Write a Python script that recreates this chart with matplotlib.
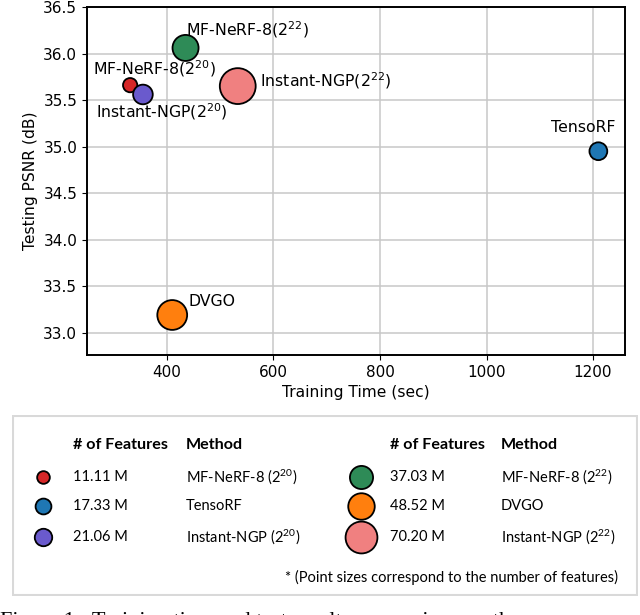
import matplotlib
matplotlib.use("Agg")
import matplotlib.pyplot as plt
from matplotlib.patches import Rectangle

# data
methods = ["MF-NeRF-8(2$^{20}$)", "TensoRF", "Instant-NGP(2$^{20}$)",
           "MF-NeRF-8(2$^{22}$)", "DVGO", "Instant-NGP(2$^{22}$)"]
legend_methods = ["MF-NeRF-8 (2$\\mathregular{^{20}}$)", "TensoRF",
                  "Instant-NGP (2$\\mathregular{^{20}}$)",
                  "MF-NeRF-8 (2$\\mathregular{^{22}}$)", "DVGO",
                  "Instant-NGP (2$\\mathregular{^{22}}$)"]
train_time = [331, 1210, 355, 435, 410, 533]
psnr = [35.66, 34.95, 35.56, 36.06, 33.19, 35.65]
features = [11.11, 17.33, 21.06, 37.03, 48.52, 70.20]
feature_labels = ["11.11 M", "17.33 M", "21.06 M", "37.03 M", "48.52 M", "70.20 M"]
colors = ["#d62728", "#1f77b4", "#6a5acd", "#2e8b57", "#ff7f0e", "#f08080"]

# label anchor points (data coords, left edge / vertical center)
label_x = [261, 1121, 267, 435, 441, 575]
label_y = [35.84, 35.21, 35.37, 36.26, 33.33, 35.71]

W, H = 640, 615
fig = plt.figure(figsize=(W / 100, H / 100), dpi=100)
ax = fig.add_axes([87 / W, 1 - 355 / H, (625 - 87) / W, (355 - 7) / H])

ax.scatter(train_time, psnr, s=[9.5 * f for f in features], c=colors,
           edgecolors="black", linewidths=1.3, zorder=3)
for name, lx, ly in zip(methods, label_x, label_y):
    ax.text(lx, ly, name, fontsize=11.3, va="center", ha="left", zorder=4)

ax.set_xlim(250, 1260)
ax.set_ylim(32.76, 36.5)
ax.set_xticks([400, 600, 800, 1000, 1200])
ax.set_yticks([33.0, 33.5, 34.0, 34.5, 35.0, 35.5, 36.0, 36.5])
ax.tick_params(labelsize=11)
ax.grid(True, color="#c8c8c8", linewidth=1.1)
ax.set_axisbelow(True)
for sp in ax.spines.values():
    sp.set_linewidth(1.4)
ax.set_xlabel("Training Time (sec)", fontsize=11.2)
ax.set_ylabel("Testing PSNR (dB)", fontsize=11.2)

# legend table below the plot
lx0, ly0, lx1, ly1 = 12, 415, 638, 596
lax = fig.add_axes([lx0 / W, 1 - ly1 / H, (lx1 - lx0) / W, (ly1 - ly0) / H])
lax.set_xlim(lx0, lx1)
lax.set_ylim(ly1, ly0)
lax.axis("off")
lax.add_patch(Rectangle((lx0 + 1, ly0 + 1), lx1 - lx0 - 2, ly1 - ly0 - 2,
                        fill=False, edgecolor="#d9d9d9", linewidth=1.5))

lfont = "Lato"
col_circle = [43, 361]
col_feat = [73, 390]
col_meth = [186, 501]
header_y = 445
row_y = [477, 506, 537]

for c in range(2):
    lax.text(col_feat[c], header_y, "# of Features", fontsize=11.6, fontweight="bold",
             family=lfont, va="center", ha="left")
    lax.text(col_meth[c], header_y, "Method", fontsize=11.6, fontweight="bold",
             family=lfont, va="center", ha="left")

for i in range(len(methods)):
    c, r = divmod(i, 3)
    lax.scatter([col_circle[c]], [row_y[r]], s=7.5 * features[i], c=colors[i],
                edgecolors="black", linewidths=1.3, zorder=3, clip_on=False)
    lax.text(col_feat[c], row_y[r], feature_labels[i], fontsize=10.5,
             family=lfont, va="center", ha="left")
    lax.text(col_meth[c], row_y[r], legend_methods[i], fontsize=10.5,
             family=lfont, va="center", ha="left")

lax.text(618, 577, "* (Point sizes correspond to the number of features)",
         fontsize=10.5, family=lfont, va="center", ha="right")

# caption cut off at the bottom edge, as in the reference
fig.text(0, 1 - 626 / H, "Figure 1:  Training time and test results comparison on the",
         fontsize=16, family="Liberation Serif", va="baseline", ha="left")

fig.savefig("out.png", dpi=100)
